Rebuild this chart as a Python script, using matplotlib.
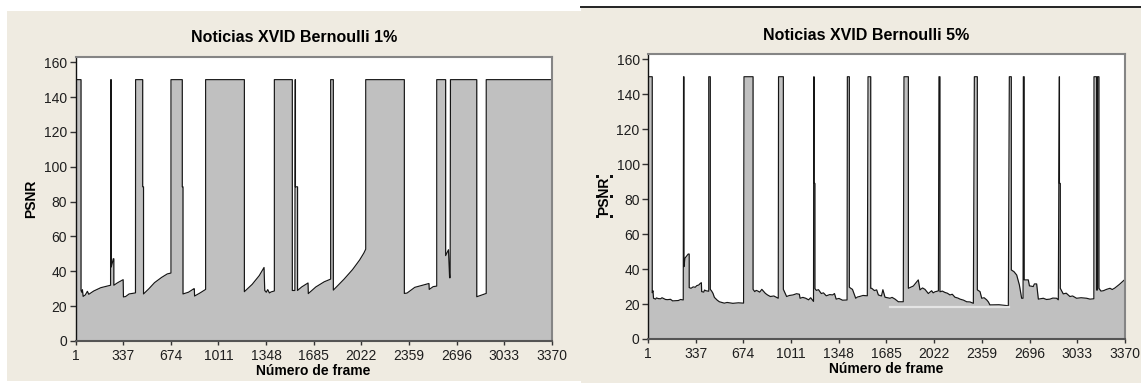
import matplotlib
matplotlib.use("Agg")
import matplotlib.pyplot as plt
from matplotlib.patches import Rectangle
from matplotlib.lines import Line2D

# PSNR per frame as (frame, psnr) breakpoints
psnr_1pct = [
    (1, 150), (40, 150), (40, 29), (45, 28), (50, 29.4), (55, 25.6), (70, 26.4), (85, 28.5),
    (95, 26.8), (130, 28.7), (180, 30.6), (249, 32),
    (250, 150), (254, 150), (254, 42.5), (262, 45), (268, 47.2), (272, 47.2), (272, 32),
    (300, 33.5), (338, 35.2), (340, 25.3), (355, 25.5), (380, 27), (425, 27.6),
    (426, 150), (476, 150), (476, 88.5), (482, 88.5), (482, 27), (520, 30), (560, 33.5),
    (610, 36.5), (650, 38.5), (676, 39),
    (676, 150), (756, 150), (756, 88.5), (761, 88.5), (761, 27), (800, 28), (838, 30),
    (841, 30), (843, 25.8), (880, 27.5), (921, 29.6),
    (921, 150), (1195, 150), (1195, 28.3), (1250, 32.5), (1300, 37.5), (1334, 42.2),
    (1339, 29), (1350, 28), (1360, 29.5), (1372, 27.6), (1385, 28.2), (1407, 28.7),
    (1407, 150), (1534, 150), (1534, 29), (1552, 29), (1554, 150), (1556, 150),
    (1556, 88.5), (1571, 88.5), (1571, 29), (1600, 31), (1645, 33.3), (1647, 27.2),
    (1700, 31), (1760, 34), (1805, 35.5),
    (1805, 150), (1824, 150), (1824, 29.2), (1900, 35.5), (1960, 41), (2010, 46.5),
    (2040, 50.5), (2053, 52.7),
    (2053, 150), (2326, 150), (2326, 27.3), (2345, 27.5), (2400, 30.8), (2500, 33),
    (2502, 29.6), (2530, 31.2), (2555, 31.5),
    (2555, 150), (2618, 150), (2618, 49), (2638, 52.4), (2646, 36.3), (2650, 36.3),
    (2652, 150), (2838, 150), (2838, 25.4), (2870, 26.3), (2905, 27.3),
    (2905, 150), (3370, 150),
]

psnr_5pct = [
    (1, 150), (31, 150), (31, 26.5), (36, 27.6), (40, 23.3), (55, 22.8), (60, 23.5),
    (75, 23.1), (90, 23), (100, 23.6), (110, 23.2), (125, 22.6), (140, 22.5),
    (160, 22.7), (175, 21.8), (215, 22), (232, 22.6), (250, 22.3),
    (252, 150), (255, 150), (255, 41.4), (262, 46.2), (285, 48.6), (292, 48.6), (292, 29.4),
    (305, 29), (320, 29.8), (335, 29.6), (345, 30.5), (360, 30.9), (370, 31.8),
    (378, 32.2), (380, 27.1), (395, 26.8), (400, 28), (410, 27.6), (430, 27.3),
    (430, 150), (441, 150), (441, 28.4), (450, 27.5), (460, 26.1), (470, 23.8),
    (490, 22.2), (505, 21.3), (540, 20.5), (560, 20.9), (600, 20.4), (640, 20.7),
    (676, 20.5),
    (679, 150), (743, 150), (743, 28.4), (755, 27.1), (765, 27.8), (775, 27.5),
    (790, 26.8), (805, 28.4), (818, 27.2), (830, 26.1), (845, 25.2), (865, 24.3),
    (890, 24.6), (921, 23.3),
    (923, 150), (957, 150), (957, 28.4), (965, 27), (980, 24.3), (1000, 24.9),
    (1025, 25.2), (1050, 25.9), (1070, 25.6), (1075, 23.3), (1095, 23.8),
    (1115, 23.3), (1135, 22.4), (1150, 23.6), (1170, 21.5),
    (1172, 150), (1174, 150), (1174, 89), (1180, 89), (1180, 28.8), (1190, 27.8),
    (1205, 28.2), (1225, 26), (1240, 26.4), (1260, 24.7), (1285, 25.4), (1305, 25.2),
    (1318, 26), (1330, 22.8), (1350, 23.2), (1375, 22.2), (1407, 22.3),
    (1409, 150), (1423, 150), (1423, 29.6), (1435, 28.9), (1445, 28.4), (1468, 23.3),
    (1480, 24), (1495, 24.3), (1520, 24.9), (1550, 24.7),
    (1555, 150), (1574, 150), (1574, 29), (1581, 29), (1600, 27.7), (1616, 28.1),
    (1628, 25.2), (1650, 24.6), (1660, 28.2), (1675, 23.9), (1710, 23.3), (1725, 23.8),
    (1746, 22.8), (1769, 21.3), (1804, 21.3),
    (1809, 150), (1840, 150), (1840, 29), (1875, 30.3), (1910, 33.8), (1922, 28.1),
    (1940, 29.2), (1957, 28.4), (1981, 26), (2004, 27.6), (2015, 26.4), (2028, 27),
    (2052, 27.5),
    (2056, 150), (2063, 150), (2063, 27), (2080, 27.4), (2099, 26.6), (2115, 26.2),
    (2134, 25.2), (2150, 25.6), (2169, 23.9), (2190, 23.4), (2205, 22.8), (2230, 22.2),
    (2252, 21.3), (2275, 21.2), (2299, 20.4),
    (2306, 150), (2327, 150), (2327, 28.1), (2346, 27.1), (2358, 23.3), (2375, 23.6),
    (2393, 22.4), (2405, 21.2), (2416, 19.5), (2480, 19.6), (2546, 19),
    (2553, 150), (2567, 150), (2567, 39.5), (2586, 38.5), (2605, 36.6), (2624, 30.9),
    (2640, 23.3), (2650, 23.3),
    (2652, 150), (2658, 150), (2658, 33.8), (2687, 33.8), (2695, 30.4), (2722, 30),
    (2730, 31.5), (2746, 31.5), (2758, 22.8), (2793, 23.3), (2815, 22.6), (2840, 22.8),
    (2860, 23.4), (2887, 23.3), (2899, 22.4),
    (2906, 150), (2907, 150), (2907, 89), (2913, 89), (2913, 29), (2934, 25.8),
    (2955, 26.2), (2981, 24.3), (3000, 24.6), (3028, 23.3), (3060, 23.6),
    (3099, 23.3), (3123, 22.8), (3150, 23),
    (3151, 150), (3169, 150), (3169, 28), (3176, 28), (3176, 150), (3186, 150),
    (3186, 29), (3200, 27.4), (3217, 27.6), (3240, 28.4), (3264, 29), (3280, 28.3),
    (3299, 29.2), (3330, 31.2), (3370, 34.1),
]

# faint horizontal stroke seen inside the 5% panel
stroke_5pct = [(1712, 18.3), (2549, 18.3)]

x_ticks = [1, 337, 674, 1011, 1348, 1685, 2022, 2359, 2696, 3033, 3370]
y_ticks = [0, 20, 40, 60, 80, 100, 120, 140, 160]

titles = ["Noticias XVID Bernoulli 1%", "Noticias XVID Bernoulli 5%"]

W, H = 1141, 383
BEIGE = "#efebe1"
FILL = "#c0c0c0"
TXT = "#1e1e1e"


def fx(px):
    return px / W


def fy(py):
    return 1 - py / H


fig = plt.figure(figsize=(W / 100, H / 100), dpi=100, facecolor="white")

# panel backgrounds
fig.add_artist(Rectangle((fx(7), fy(381)), (581 - 7) / W, (381 - 11) / H,
                         transform=fig.transFigure, color=BEIGE, lw=0, zorder=-2))
fig.add_artist(Rectangle((fx(581), fy(383)), (W - 581) / W, (383 - 8) / H,
                         transform=fig.transFigure, color=BEIGE, lw=0, zorder=-2))
fig.add_artist(Line2D([fx(581), 1], [fy(7), fy(7)], transform=fig.transFigure,
                      color="#222222", lw=1.4, zorder=-1))

boxes = [(75.5, 552, 57, 341), (648, 1125, 54, 339)]
series = [psnr_1pct, psnr_5pct]
axes = []
for (l, r, t, b), data in zip(boxes, series):
    ax = fig.add_axes([fx(l), fy(b), (r - l) / W, (b - t) / H])
    ax.set_facecolor("white")
    xs = [p[0] for p in data]
    ys = [p[1] for p in data]
    ax.fill_between(xs, ys, 0, color=FILL, lw=0)
    ax.plot(xs, ys, color="#151515", lw=0.85)
    ax.set_xlim(1, 3370)
    ax.set_ylim(0, 163)
    ax.set_xticks(x_ticks)
    ax.set_xticklabels([str(v) for v in x_ticks])
    ax.set_yticks(y_ticks)
    ax.set_yticklabels([str(v) for v in y_ticks])
    ax.tick_params(axis="x", length=3, width=1, pad=2.5, color="#333333",
                   labelsize=10, labelcolor=TXT)
    ax.tick_params(axis="y", length=4.5, width=1, pad=1.5, color="#333333",
                   labelsize=10, labelcolor=TXT)
    for lab in ax.get_xticklabels() + ax.get_yticklabels():
        lab.set_family("Liberation Sans")
    ax.spines["left"].set_color("#111111")
    ax.spines["left"].set_linewidth(1.0)
    ax.spines["bottom"].set_color("#555555")
    ax.spines["bottom"].set_linewidth(1.5)
    for s in ("top", "right"):
        ax.spines[s].set_color("#858585")
        ax.spines[s].set_linewidth(1.5)
    axes.append(ax)

sx = [p[0] for p in stroke_5pct]
sy = [p[1] for p in stroke_5pct]
axes[1].plot(sx, sy, color="#e4e4e4", lw=1.6)

# titles and axis labels
font = "Liberation Sans"
fig.text(fx(294), fy(37), titles[0], ha="center", va="center", fontsize=11.5,
         fontweight="bold", family=font, color="black")
fig.text(fx(866), fy(35), titles[1], ha="center", va="center", fontsize=11.5,
         fontweight="bold", family=font, color="black")
fig.text(fx(313), fy(371), "Número de frame", ha="center", va="center", fontsize=10,
         fontweight="bold", family=font, color="black")
fig.text(fx(886), fy(369), "Número de frame", ha="center", va="center", fontsize=10,
         fontweight="bold", family=font, color="black")
fig.text(fx(31), fy(199), "PSNR", ha="center", va="center", rotation=90, fontsize=10,
         fontweight="bold", family=font, color="black")
fig.text(fx(604.5), fy(196), "PSNR", ha="center", va="center", rotation=90, fontsize=10,
         fontweight="bold", family=font, color="black")

# selection handles around the right y label
for hx in (597, 611.5):
    for hy in (176, 196, 216):
        fig.add_artist(Rectangle((fx(hx - 1.5), fy(hy + 1.5)), 3 / W, 3 / H,
                                 transform=fig.transFigure, color="#111111", lw=0))

fig.savefig("out.png", dpi=100, facecolor="white")
